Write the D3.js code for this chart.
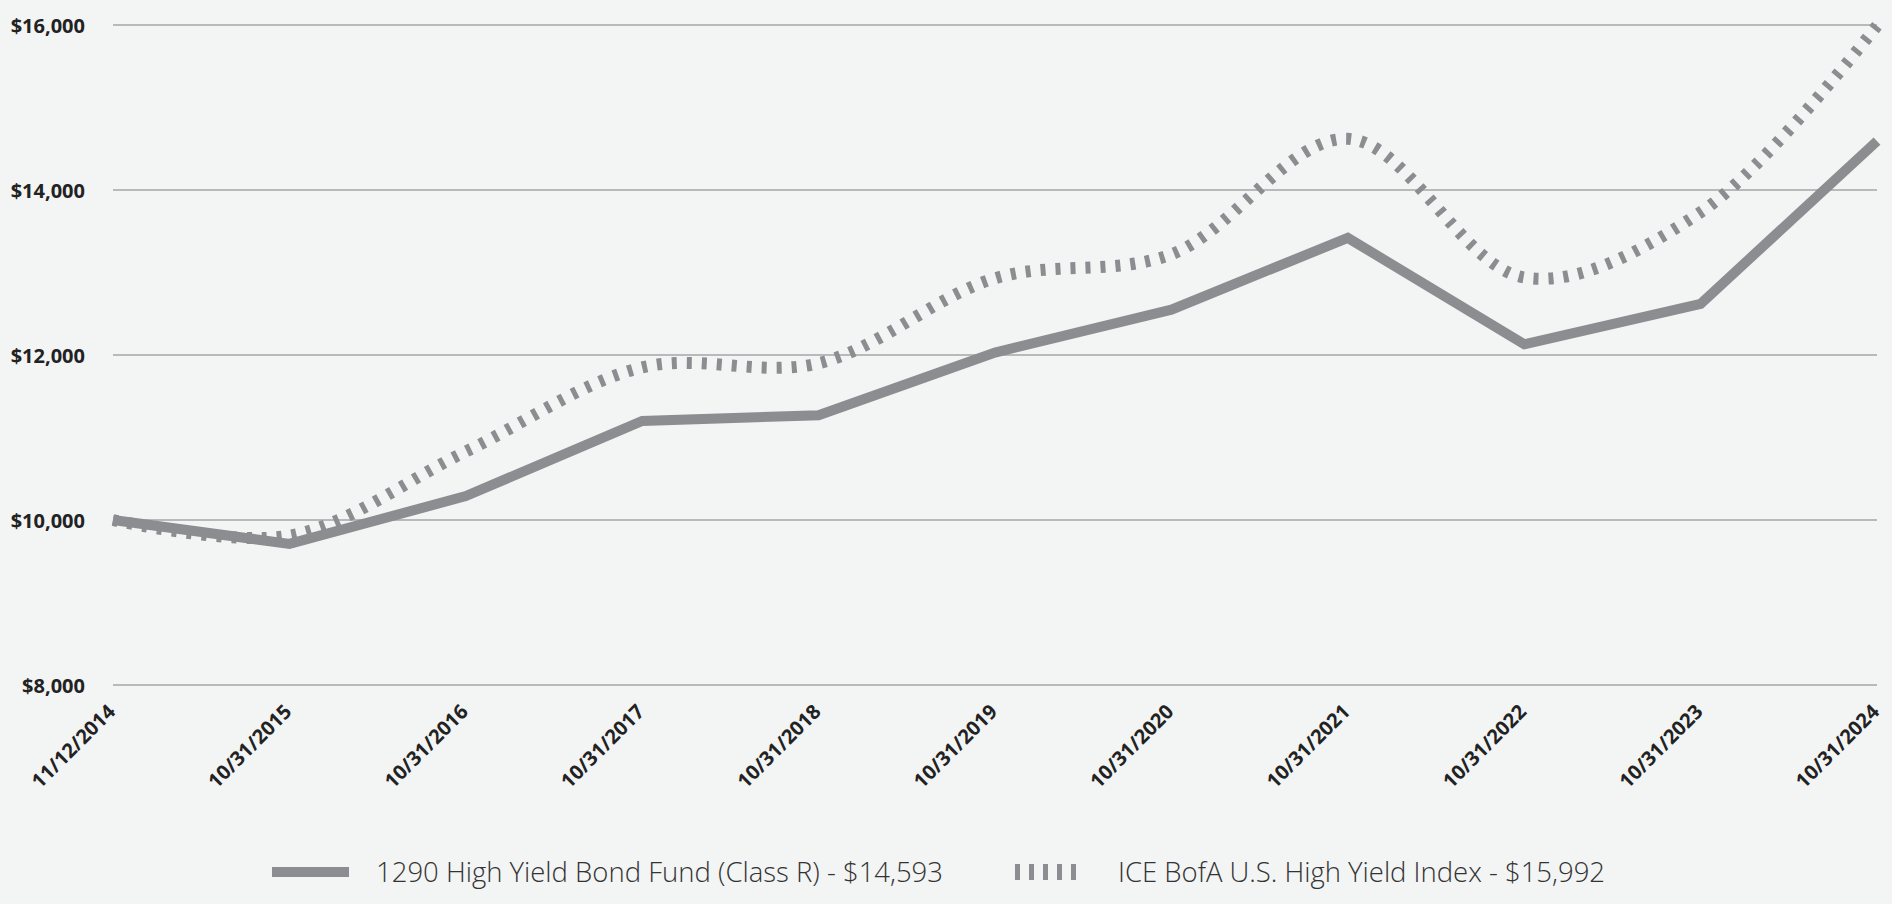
<!DOCTYPE html>
<html><head><meta charset="utf-8">
<script src="https://cdn.jsdelivr.net/npm/d3@7"></script>
<style>
html,body{margin:0;padding:0;background:#f3f4f4;}
svg{display:block;}
</style></head>
<body>
<svg id="chart" width="1892" height="904"></svg>
<script>
const dates = ["11/12/2014","10/31/2015","10/31/2016","10/31/2017","10/31/2018","10/31/2019","10/31/2020","10/31/2021","10/31/2022","10/31/2023","10/31/2024"];
const fundValues = [10000, 9710, 10290, 11200, 11270, 12030, 12550, 13420, 12130, 12620, 14593];
const indexValues = [10000, 9810, 10830, 11850, 11900, 12930, 13220, 14620, 12940, 13730, 15992];
const yTicks = [8000, 10000, 12000, 14000, 16000];
const fundName = "1290 High Yield Bond Fund (Class R) - $14,593";
const indexName = "ICE BofA U.S. High Yield Index - $15,992";

const svg = d3.select("#chart");
const W = 1892, H = 904;
const margin = {left: 113, right: 15, top: 25, bottom: 219};
const x = d3.scalePoint().domain(dates).range([margin.left, W - margin.right]);
const y = d3.scaleLinear().domain([8000, 16000]).range([H - margin.bottom, margin.top]);

svg.append("rect").attr("width", W).attr("height", H).attr("fill", "#f3f4f4");

// gridlines
svg.append("g").selectAll("line").data(yTicks).join("line")
  .attr("x1", margin.left).attr("x2", W - margin.right)
  .attr("y1", d => y(d)).attr("y2", d => y(d))
  .attr("stroke", "#b9b9b9").attr("stroke-width", 2);

// y axis
const yAxis = d3.axisLeft(y).tickValues(yTicks).tickSize(0).tickPadding(0)
  .tickFormat(d => "$" + d3.format(",")(d));
const gy = svg.append("g").attr("transform", `translate(${margin.left - 28},0)`).call(yAxis);
gy.select(".domain").remove();
gy.selectAll("text").attr("font-family", "'Open Sans', sans-serif").attr("font-weight", 700)
  .attr("font-size", 20).attr("fill", "#222").attr("dy", "0.35em");

// x axis
const xAxis = d3.axisBottom(x).tickSize(0).tickPadding(0);
const gx = svg.append("g").attr("transform", `translate(0,${H - margin.bottom})`).call(xAxis);
gx.select(".domain").remove();
gx.selectAll("text").attr("font-family", "'Open Sans', sans-serif").attr("font-weight", 700)
  .attr("font-size", 20).attr("fill", "#222")
  .attr("text-anchor", "end")
  .attr("dy", null).attr("y", null)
  .attr("transform", "translate(3,28) rotate(-45)");

const lineColor = "#8c8d90";
const fundLine = d3.line().x((d, i) => x(dates[i])).y(d => y(d));
const indexLine = d3.line().x((d, i) => x(dates[i])).y(d => y(d)).curve(d3.curveCatmullRom.alpha(0.5));

svg.append("path").datum(indexValues).attr("d", indexLine)
  .attr("fill", "none").attr("stroke", lineColor).attr("stroke-width", 12)
  .attr("stroke-dasharray", "5,10");
svg.append("path").datum(fundValues).attr("d", fundLine)
  .attr("fill", "none").attr("stroke", lineColor).attr("stroke-width", 10)
  .attr("stroke-linejoin", "miter");

// legend
const ly = 872;
const leg = svg.append("g");
leg.append("line").attr("x1", 272).attr("x2", 349).attr("y1", ly).attr("y2", ly)
  .attr("stroke", lineColor).attr("stroke-width", 10);
leg.append("text").attr("x", 376).attr("y", 882)
  .attr("font-family", "'Open Sans', sans-serif").attr("font-weight", 300)
  .attr("font-size", 28).attr("fill", "#333")
  .attr("textLength", 567).attr("lengthAdjust", "spacingAndGlyphs").text(fundName);
leg.append("line").attr("x1", 1015).attr("x2", 1083).attr("y1", ly).attr("y2", ly)
  .attr("stroke", lineColor).attr("stroke-width", 16).attr("stroke-dasharray", "5,9");
leg.append("text").attr("x", 1118).attr("y", 882)
  .attr("font-family", "'Open Sans', sans-serif").attr("font-weight", 300)
  .attr("font-size", 28).attr("fill", "#333")
  .attr("textLength", 487).attr("lengthAdjust", "spacingAndGlyphs").text(indexName);
</script>
</body></html>
